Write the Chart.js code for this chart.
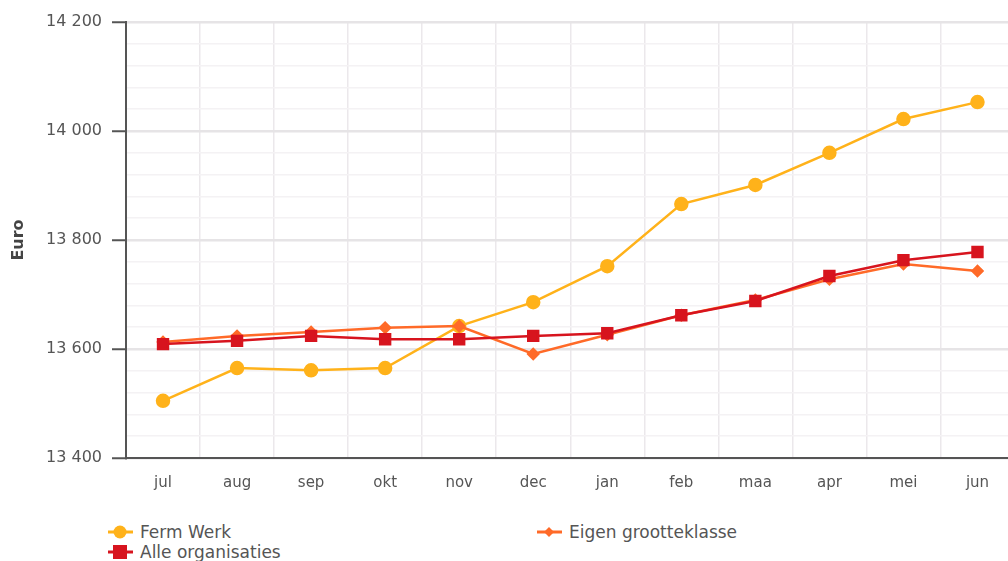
<!DOCTYPE html>
<html><head><meta charset="utf-8">
<script src="https://cdn.jsdelivr.net/npm/chart.js@4"></script>
<style>
html,body{margin:0;padding:0;background:#fff;overflow:hidden;width:1008px;height:561px;}
#wrap{position:absolute;left:0;top:0;width:1024px;height:505px;}
#legend{position:absolute;left:0;top:0;font-family:"DejaVu Sans",Verdana,sans-serif;font-size:17px;color:#555;}
.item{position:absolute;display:flex;align-items:center;white-space:nowrap;}
.item svg{margin-right:7px;}
</style></head><body>
<div id="wrap"><canvas id="c"></canvas></div>
<div id="legend"></div>
<script>
const categories = ["jul","aug","sep","okt","nov","dec","jan","feb","maa","apr","mei","jun"];
const fermWerk = [13505,13565,13561,13565,13642,13686,13752,13866,13901,13960,14022,14053];
const eigenGrootteklasse = [13613,13624,13631,13639,13642,13591,13626,13662,13690,13728,13756,13743];
const alleOrganisaties = [13609,13615,13624,13618,13618,13624,13629,13662,13688,13734,13763,13778];
const seriesNames = ["Ferm Werk","Eigen grootteklasse","Alle organisaties"];
const yMin = 13400, yMax = 14200, yStep = 40, yMajor = 200;

const colors = ["#FFB21A","#FF6A28","#D7141E"];
const styles = ["circle","rectRot","rect"];
const radii = [6,5,7];
const font = '"DejaVu Sans", Verdana, sans-serif';

function fmt(v){ return String(v).replace(/\B(?=(\d{3})+(?!\d))/g, " "); }

const datasets = [fermWerk, eigenGrootteklasse, alleOrganisaties].map((d,i)=>({
  label: seriesNames[i], data: d,
  borderColor: colors[i], backgroundColor: colors[i],
  pointStyle: styles[i], pointRadius: radii[i], pointHoverRadius: radii[i],
  borderWidth: 2.5, tension: 0, order: i===0?3:(i===1?2:1)
}));

new Chart(document.getElementById('c'), {
  type: 'line',
  data: { labels: categories, datasets },
  options: {
    responsive: true, maintainAspectRatio: false, animation: false,
    layout: { padding: { top: 22, right: 7, left: 0, bottom: 0 } },
    plugins: { legend: { display: false }, tooltip: { enabled: false } },
    scales: {
      x: {
        offset: true,
        grid: { offset: true, color: '#ebe8eb', lineWidth: 1.5, drawTicks: false },
        border: { color: '#555', width: 2 },
        ticks: { color: '#555', font: { family: font, size: 15 }, padding: 16 },
        afterFit(s){ s.height = 47; }
      },
      y: {
        min: yMin, max: yMax,
        grid: {
          color: c => (c.tick && c.tick.value % yMajor === 0) ? '#e6e4e6' : '#f4f2f4',
          lineWidth: c => (c.tick && c.tick.value % yMajor === 0) ? 2.5 : 1.5,
          tickColor: c => (c.tick && c.tick.value % yMajor === 0) ? '#555' : 'rgba(0,0,0,0)',
          tickWidth: 2, tickLength: 14
        },
        border: { color: '#555', width: 2 },
        ticks: {
          stepSize: yStep, autoSkip: false, color: '#555', padding: 10,
          font: { family: font, size: 16 },
          callback: v => (v % yMajor === 0) ? fmt(v) : ''
        },
        title: { display: true, text: 'Euro', color: '#444', font: { family: font, size: 16, weight: 'bold' }, padding: { top: 9, bottom: 0 } },
        afterFit(s){ s.width = 126; }
      }
    }
  }
});

// HTML legend built from the series names
const legendPos = [[108,532],[537,532],[108,552]];
const lg = document.getElementById('legend');
seriesNames.forEach((n,i)=>{
  const el = document.createElement('div');
  el.className = 'item';
  el.style.left = legendPos[i][0]+'px';
  el.style.top = (legendPos[i][1]-10)+'px';
  let mk;
  if(styles[i]==='circle') mk = `<circle cx="12" cy="10" r="6.5" fill="${colors[i]}"/>`;
  else if(styles[i]==='rect') mk = `<rect x="5" y="3" width="14" height="14" fill="${colors[i]}"/>`;
  else mk = `<polygon points="12,5 17,10 12,15 7,10" fill="${colors[i]}"/>`;
  el.innerHTML = `<svg width="25" height="20"><line x1="0" y1="10" x2="25" y2="10" stroke="${colors[i]}" stroke-width="3"/>${mk}</svg><span>${n}</span>`;
  lg.appendChild(el);
});
</script>
</body></html>
